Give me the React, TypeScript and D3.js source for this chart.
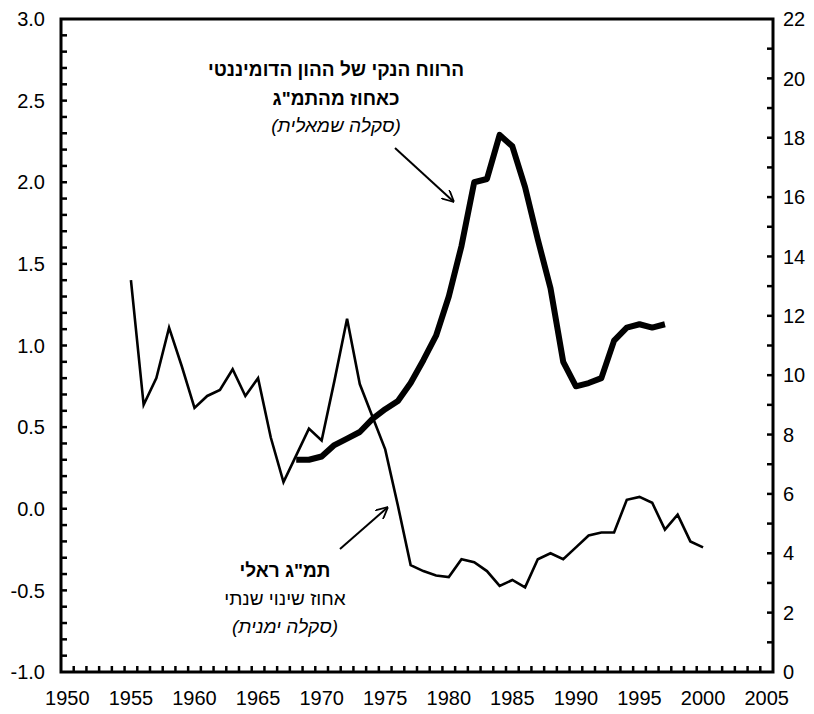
import React, { useEffect, useRef } from "react";
import * as d3 from "d3";

// thin line, right axis: real GDP, annual % change
const gdpYears = d3.range(1955, 2001);
const gdpValues = [
  13.2, 9.0, 9.9, 11.6, 10.3, 8.9, 9.3, 9.5, 10.2, 9.3, 9.9, 7.9, 6.4, 7.3, 8.2, 7.8,
  9.8, 11.9, 9.7, 8.6, 7.5, 5.6, 3.6, 3.4, 3.25, 3.2, 3.8, 3.7, 3.4, 2.9, 3.1, 2.85,
  3.8, 4.0, 3.8, 4.2, 4.6, 4.7, 4.7, 5.8, 5.9, 5.7, 4.8, 5.3, 4.4, 4.2,
];

// thick line, left axis: net profit of dominant capital as % of GDP
const profitYears = d3.range(1968, 1998);
const profitValues = [
  0.3, 0.3, 0.32, 0.39, 0.43, 0.47, 0.55, 0.61, 0.66, 0.77, 0.91, 1.06, 1.3, 1.61, 2.0,
  2.02, 2.29, 2.22, 1.97, 1.65, 1.35, 0.9, 0.75, 0.77, 0.8, 1.03, 1.11, 1.13, 1.11, 1.13,
];

const categories = d3.range(1950, 2006);
const xLabels = d3.range(1950, 2006, 5);
const leftTicks = [-1.0, -0.5, 0.0, 0.5, 1.0, 1.5, 2.0, 2.5, 3.0];
const rightTicks = [0, 2, 4, 6, 8, 10, 12, 14, 16, 18, 20, 22];

const profitLabel = ["הרווח הנקי של ההון הדומיננטי", "כאחוז מהתמ\"ג", "(סקלה שמאלית)"];
const gdpLabel = ["תמ\"ג ראלי", "אחוז שינוי שנתי", "(סקלה ימנית)"];

const font = "'Liberation Sans', Arial, sans-serif";

const App = () => {
  const ref = useRef(null);

  useEffect(() => {
    const width = 814;
    const height = 714;
    const left = 61;
    const right = 773;
    const top = 19;
    const bottom = 672;

    const svg = d3.select(ref.current);
    svg.selectAll("*").remove();
    svg.attr("width", width).attr("height", height);

    const x = d3.scaleBand().domain(categories.map(String)).range([left, right]);
    const xc = (yr) => x(String(yr)) + x.bandwidth() / 2;
    const yL = d3.scaleLinear().domain([-1, 3]).range([bottom, top]);
    const yR = d3.scaleLinear().domain([0, 22]).range([bottom, top]);

    // left axis ticks (inward)
    svg
      .append("g")
      .selectAll("line")
      .data(d3.range(-9, 30).map((d) => d / 10))
      .enter()
      .append("line")
      .attr("x1", left)
      .attr("x2", left + 6)
      .attr("y1", (d) => yL(d))
      .attr("y2", (d) => yL(d))
      .attr("stroke", "#000")
      .attr("stroke-width", 2.5);

    svg
      .append("g")
      .selectAll("text")
      .data(leftTicks)
      .enter()
      .append("text")
      .attr("x", left - 16)
      .attr("y", (d) => yL(d))
      .attr("dy", "0.36em")
      .attr("text-anchor", "end")
      .style("font-family", font)
      .style("font-size", "20px")
      .text((d) => d.toFixed(1));

    // right axis ticks (inward)
    svg
      .append("g")
      .selectAll("line")
      .data(d3.range(1, 22))
      .enter()
      .append("line")
      .attr("x1", right - 6)
      .attr("x2", right)
      .attr("y1", (d) => yR(d))
      .attr("y2", (d) => yR(d))
      .attr("stroke", "#000")
      .attr("stroke-width", 2.5);

    svg
      .append("g")
      .selectAll("text")
      .data(rightTicks)
      .enter()
      .append("text")
      .attr("x", right + 10)
      .attr("y", (d) => yR(d))
      .attr("dy", "0.36em")
      .attr("text-anchor", "start")
      .style("font-family", font)
      .style("font-size", "20px")
      .text((d) => d);

    // bottom ticks at category boundaries
    svg
      .append("g")
      .selectAll("line")
      .data(categories.slice(1))
      .enter()
      .append("line")
      .attr("x1", (d) => x(String(d)))
      .attr("x2", (d) => x(String(d)))
      .attr("y1", bottom)
      .attr("y2", bottom - 6)
      .attr("stroke", "#000")
      .attr("stroke-width", 2.5);

    svg
      .append("g")
      .selectAll("text")
      .data(xLabels)
      .enter()
      .append("text")
      .attr("x", (d) => xc(d))
      .attr("y", 705)
      .attr("text-anchor", "middle")
      .style("font-family", font)
      .style("font-size", "20px")
      .text((d) => d);

    // frame
    svg
      .append("rect")
      .attr("x", left)
      .attr("y", top)
      .attr("width", right - left)
      .attr("height", bottom - top)
      .attr("fill", "none")
      .attr("stroke", "#000")
      .attr("stroke-width", 3);

    const gdpLine = d3
      .line()
      .x((d, i) => xc(gdpYears[i]))
      .y((d) => yR(d));
    svg
      .append("path")
      .datum(gdpValues)
      .attr("d", gdpLine)
      .attr("fill", "none")
      .attr("stroke", "#000")
      .attr("stroke-width", 2.6)
      .attr("stroke-linejoin", "miter");

    const profitLine = d3
      .line()
      .x((d, i) => xc(profitYears[i]))
      .y((d) => yL(d));
    svg
      .append("path")
      .datum(profitValues)
      .attr("d", profitLine)
      .attr("fill", "none")
      .attr("stroke", "#000")
      .attr("stroke-width", 6)
      .attr("stroke-linejoin", "round");

    // arrows
    const defs = svg.append("defs");
    defs
      .append("marker")
      .attr("id", "arrow")
      .attr("viewBox", "0 0 10 10")
      .attr("refX", 10)
      .attr("refY", 5)
      .attr("markerWidth", 6)
      .attr("markerHeight", 6)
      .attr("orient", "auto")
      .append("path")
      .attr("d", "M0,0 L10,5 L0,10")
      .attr("fill", "none")
      .attr("stroke", "#000")
      .attr("stroke-width", 1.5);

    const arrows = [
      [395, 148, 454, 202],
      [340, 549, 388, 507],
    ];
    svg
      .append("g")
      .selectAll("line")
      .data(arrows)
      .enter()
      .append("line")
      .attr("x1", (d) => d[0])
      .attr("y1", (d) => d[1])
      .attr("x2", (d) => d[2])
      .attr("y2", (d) => d[3])
      .attr("stroke", "#000")
      .attr("stroke-width", 2)
      .attr("marker-end", "url(#arrow)");

    const addLabel = (lines, cx, ys, boldLines) => {
      lines.forEach((t, i) => {
        svg
          .append("text")
          .attr("x", cx)
          .attr("y", ys[i])
          .attr("text-anchor", "middle")
          .attr("direction", "rtl")
          .style("font-family", font)
          .style("font-size", "19px")
          .style("font-weight", i < boldLines ? "bold" : "normal")
          .style("font-style", i === 2 ? "italic" : "normal")
          .text(t);
      });
    };
    addLabel(profitLabel, 336, [76, 105, 132], 2);
    addLabel(gdpLabel, 285, [577, 605, 633], 1);
  }, []);

  return <svg ref={ref} style={{ position: "absolute", left: 0, top: 0 }}></svg>;
};

export default App;
